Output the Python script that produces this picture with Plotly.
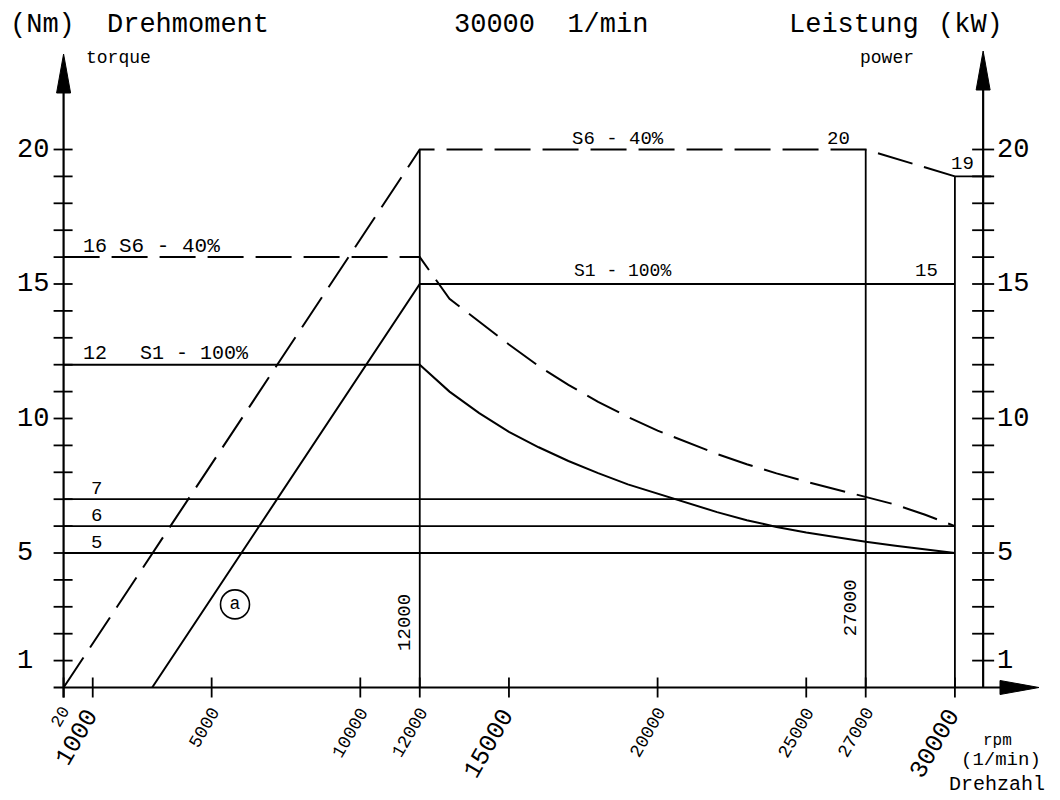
import plotly.graph_objects as go

# ---------------- data ----------------
RPM_TICKS = [20, 1000, 5000, 10000, 12000, 15000, 20000, 25000, 27000, 30000]
RPM_TICK_TEXT = ["20", "1000", "5000", "10000", "12000", "15000", "20000", "25000", "27000", "30000"]

TORQUE_MINOR_TICKS = [1, 2, 3, 4, 5, 6, 7, 8, 9, 10, 11, 12, 13, 14, 15, 16, 17, 18, 19, 20]
TORQUE_TICK_VALUES = [1, 5, 10, 15, 20]
TORQUE_TICK_TEXT = ["1", "5", "10", "15", "20"]
POWER_MINOR_TICKS = [1, 2, 3, 4, 5, 6, 7, 8, 9, 10, 11, 12, 13, 14, 15, 16, 17, 18, 19, 20]
POWER_TICK_VALUES = [1, 5, 10, 15, 20]
POWER_TICK_TEXT = ["1", "5", "10", "15", "20"]

# torque curves (Nm)
S6_TORQUE_RPM = [20, 12000, 13000, 14000, 15000, 16000, 17000, 18000, 19000, 20000,
                 21000, 22000, 23000, 24000, 25000, 26000, 27000, 28000, 29000, 30000]
S6_TORQUE_NM = [16, 16, 14.45, 13.6, 12.75, 11.95, 11.25, 10.62, 10.06, 9.55,
                9.1, 8.68, 8.3, 7.96, 7.65, 7.36, 7.08, 6.8, 6.42, 6.0]
S1_TORQUE_RPM = [20, 12000, 13000, 14000, 15000, 16000, 17000, 18000, 19000, 20000,
                 21000, 22000, 23000, 24000, 25000, 26000, 27000, 28000, 29000, 30000]
S1_TORQUE_NM = [12, 12, 11.0, 10.2, 9.5, 8.93, 8.42, 7.97, 7.55, 7.2,
                6.86, 6.52, 6.22, 5.97, 5.76, 5.58, 5.42, 5.27, 5.13, 5.0]

# power curves (kW)
S6_POWER_RPM = [20, 12000, 27000, 30000]
S6_POWER_KW = [0, 20, 20, 19]
S1_POWER_RPM = [3000, 12000, 30000]
S1_POWER_KW = [0, 15, 15]

# reference torque levels
REF_TORQUE_NM = [7, 6, 5]
REF_TORQUE_END_RPM = [27000, 30000, 30000]

# corner speeds
CORNER_RPM = [12000, 27000, 30000]
CORNER_TOP = [20, 20, 19]

MODE_S6 = "S6 - 40%"
MODE_S1 = "S1 - 100%"

# ---------------- layout geometry ----------------
W, H = 1060, 800
PX_PER_RPM = 0.02973
PX_PER_NM = 26.9
X_ORIGIN_PX = 63.0
Y_ORIGIN_PX = 687.5
FONT = "Liberation Mono, DejaVu Sans Mono, monospace"
BLACK = "#000000"


def dx(px):
    return px / PX_PER_RPM


def dy(px):
    return px / PX_PER_NM


def paper_x(px):
    return px / W


def paper_y(py):
    return 1 - py / H


LEFT_AXIS_X = RPM_TICKS[0]
RIGHT_AXIS_X = 30950

fig = go.Figure()


def add_line(xs, ys, dash="solid", width=2.0):
    fig.add_trace(go.Scatter(x=xs, y=ys, mode="lines",
                             line=dict(color=BLACK, width=width, dash=dash),
                             hoverinfo="skip", showlegend=False))


DASH = "36px,12px"

# curves
add_line(S6_TORQUE_RPM, S6_TORQUE_NM, dash=DASH)
add_line(S1_TORQUE_RPM, S1_TORQUE_NM)
add_line(S6_POWER_RPM, S6_POWER_KW, dash=DASH)
add_line(S1_POWER_RPM, S1_POWER_KW)

# reference levels
for lvl, end in zip(REF_TORQUE_NM, REF_TORQUE_END_RPM):
    add_line([LEFT_AXIS_X, end], [lvl, lvl], width=1.8)

# corner verticals
for r, top in zip(CORNER_RPM, CORNER_TOP):
    add_line([r, r], [0, top], width=1.8)
# short step to the power axis at the last corner
add_line([CORNER_RPM[-1], RIGHT_AXIS_X + dx(8)], [CORNER_TOP[-1], CORNER_TOP[-1]], width=1.8)

# axes lines
AX_W = 2.2
x_base = (1000 - X_ORIGIN_PX) / PX_PER_RPM
x_tip = (1039 - X_ORIGIN_PX) / PX_PER_RPM
add_line([LEFT_AXIS_X - dx(10), x_base], [0, 0], width=AX_W)
add_line([LEFT_AXIS_X, LEFT_AXIS_X], [-dy(10), dy(Y_ORIGIN_PX - 93)], width=AX_W)
add_line([RIGHT_AXIS_X, RIGHT_AXIS_X], [0, dy(Y_ORIGIN_PX - 90)], width=AX_W)

# ticks
tx, ty = [], []
for v in TORQUE_MINOR_TICKS:
    tx += [LEFT_AXIS_X - dx(10), LEFT_AXIS_X + dx(9), None]
    ty += [v, v, None]
for v in POWER_MINOR_TICKS:
    tx += [RIGHT_AXIS_X - dx(11), RIGHT_AXIS_X + dx(11), None]
    ty += [v, v, None]
for v in RPM_TICKS:
    tx += [v, v, None]
    ty += [-dy(10), dy(10), None]
fig.add_trace(go.Scatter(x=tx, y=ty, mode="lines", line=dict(color=BLACK, width=1.8),
                         hoverinfo="skip", showlegend=False))

# arrow heads
shapes = []


def tri(points):
    p = "M " + " L ".join(f"{x},{y}" for x, y in points) + " Z"
    shapes.append(dict(type="path", path=p, xref="x", yref="y",
                       fillcolor=BLACK, line=dict(color=BLACK, width=1)))


tri([(LEFT_AXIS_X - dx(7), dy(Y_ORIGIN_PX - 93)), (LEFT_AXIS_X, dy(Y_ORIGIN_PX - 54)),
     (LEFT_AXIS_X + dx(7), dy(Y_ORIGIN_PX - 93))])
tri([(RIGHT_AXIS_X - dx(7), dy(Y_ORIGIN_PX - 90)), (RIGHT_AXIS_X, dy(Y_ORIGIN_PX - 51)),
     (RIGHT_AXIS_X + dx(7), dy(Y_ORIGIN_PX - 90))])
tri([(x_base, dy(7)), (x_tip, 0), (x_base, -dy(7))])

# circled marker "a"
fig.add_trace(go.Scatter(x=[5785], y=[3.09], mode="markers+text", text=["a"],
                         textposition="middle center",
                         textfont=dict(family=FONT, size=18, color=BLACK),
                         marker=dict(symbol="circle-open", size=29, color=BLACK,
                                     line=dict(width=1.6, color=BLACK)),
                         hoverinfo="skip", showlegend=False))

ann = []


def text(x, y, s, size, xref="x", yref="y", xanchor="center", yanchor="middle",
         xshift=0, yshift=0, angle=0):
    ann.append(dict(x=x, y=y, xref=xref, yref=yref, text=s, showarrow=False,
                    xanchor=xanchor, yanchor=yanchor, xshift=xshift, yshift=yshift,
                    textangle=angle, font=dict(family=FONT, size=size, color=BLACK)))


# rpm tick labels
BIG = {"1000", "15000", "30000"}
for v, t in zip(RPM_TICKS, RPM_TICK_TEXT):
    size = 25 if t in BIG else (17 if t == "20" else 18)
    xs = 13 if t == "20" else 15
    text(v, 0, t, size, xanchor="right", yanchor="top", xshift=xs, yshift=-14, angle=-60)

# torque / power tick labels
for v, t in zip(TORQUE_TICK_VALUES, TORQUE_TICK_TEXT):
    text(paper_x(15), v, t, 27, xref="paper", xanchor="left")
for v, t in zip(POWER_TICK_VALUES, POWER_TICK_TEXT):
    text(paper_x(995), v, t, 27, xref="paper", xanchor="left")

# header texts
text(paper_x(8), paper_y(25), "(Nm)", 27, xref="paper", yref="paper", xanchor="left")
text(paper_x(105), paper_y(25), "Drehmoment", 27, xref="paper", yref="paper", xanchor="left")
text(paper_x(452), paper_y(25), f"{RPM_TICKS[-1]}  1/min", 27, xref="paper", yref="paper", xanchor="left")
text(paper_x(787), paper_y(25), "Leistung", 27, xref="paper", yref="paper", xanchor="left")
text(paper_x(936), paper_y(25), "(kW)", 27, xref="paper", yref="paper", xanchor="left")
text(paper_x(84), paper_y(58), "torque", 18, xref="paper", yref="paper", xanchor="left")
text(paper_x(858), paper_y(58), "power", 18, xref="paper", yref="paper", xanchor="left")

# bottom-right axis name
text(paper_x(997), paper_y(741), "rpm", 16, xref="paper", yref="paper")
text(paper_x(1043), paper_y(760), "(1/min)", 19, xref="paper", yref="paper", xanchor="right")
text(paper_x(1047), paper_y(784), "Drehzahl", 20, xref="paper", yref="paper", xanchor="right")

# value / mode labels on the curves
text(1076, S6_TORQUE_NM[0], str(S6_TORQUE_NM[0]), 20, yshift=11)
text(1800, S6_TORQUE_NM[0], MODE_S6, 21, xanchor="left", yshift=11)
text(1076, S1_TORQUE_NM[0], str(S1_TORQUE_NM[0]), 20, yshift=11)
text(2520, S1_TORQUE_NM[0], MODE_S1, 20, xanchor="left", yshift=11)
for lvl in REF_TORQUE_NM:
    text(1110, lvl, str(lvl), 19, yshift=10)
text(17050, S6_POWER_KW[1], MODE_S6, 19, xanchor="left", yshift=11)
text(26100, S6_POWER_KW[2], str(S6_POWER_KW[2]), 19, yshift=11)
text(30240, S6_POWER_KW[3], str(S6_POWER_KW[3]), 19, yshift=12)
text(17120, S1_POWER_KW[1], MODE_S1, 18, xanchor="left", yshift=13)
text(29060, S1_POWER_KW[2], str(S1_POWER_KW[2]), 19, yshift=13)

# corner speed labels (vertical)
text(CORNER_RPM[0], 2.43, str(CORNER_RPM[0]), 19, xshift=-15, angle=-90)
text(CORNER_RPM[1], 2.97, str(CORNER_RPM[1]), 19, xshift=-15, angle=-90)

fig.update_layout(
    width=W, height=H,
    margin=dict(l=0, r=0, t=0, b=0),
    paper_bgcolor="white", plot_bgcolor="white",
    showlegend=False,
    xaxis=dict(visible=False, range=[-X_ORIGIN_PX / PX_PER_RPM, (W - X_ORIGIN_PX) / PX_PER_RPM]),
    yaxis=dict(visible=False, range=[-(H - Y_ORIGIN_PX) / PX_PER_NM, Y_ORIGIN_PX / PX_PER_NM]),
    shapes=shapes,
    annotations=ann,
)

fig.write_html("out.html")
